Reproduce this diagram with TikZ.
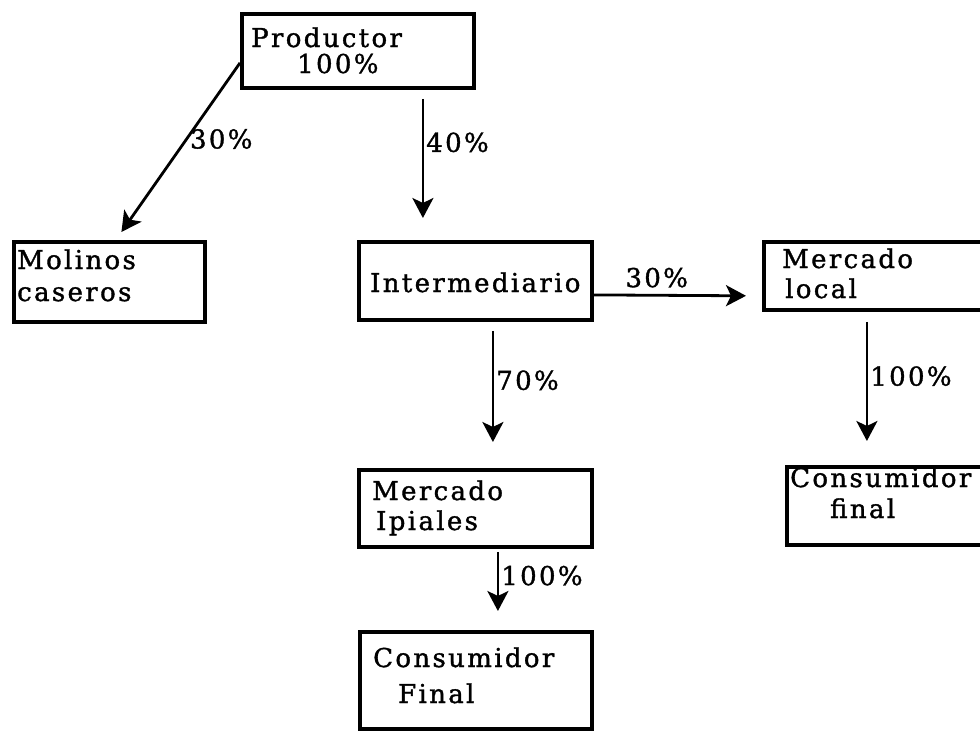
\documentclass[tikz,border=0pt]{standalone}
\usepackage{fontspec}
\setmainfont{DejaVu Serif}[LetterSpace=9,FakeBold=1.3]
\usetikzlibrary{arrows.meta}
\begin{document}
\begin{tikzpicture}[x=1pt,y=-1pt,
  box/.style={draw, line width=3.8pt, minimum width=#1, anchor=north west, inner sep=0pt},
  txt/.style={anchor=base west, inner sep=0pt, font=\fontsize{26}{28}\selectfont},
  arr/.style={line width=2.8pt, -{Stealth[length=20pt,width=21pt,inset=5pt]}},
  lbl/.style={anchor=west, inner sep=2pt, font=\fontsize{26}{28}\selectfont}]
\useasboundingbox (0,0) rectangle (980,731);
% boxes
\node[box=232pt, minimum height=74pt] (p)  at (240,12) {};
\node[box=191pt, minimum height=80pt] (m)  at (12,240) {};
\node[box=233pt, minimum height=78pt] (i)  at (357,240) {};
\node[box=218pt, minimum height=68pt] (ml) at (762,240) {};
\node[box=233pt, minimum height=77pt] (mi) at (357,468) {};
\node[box=195pt, minimum height=78pt] (cf) at (785,465) {};
\node[box=232pt, minimum height=97pt] (cb) at (358,630) {};
% texts
\node[txt] (p1) at (251,47) {Productor};
\node[txt] (p2) at (297,73) {100\%};
\node[txt] (m1) at (17,269) {Molinos};
\node[txt] (m2) at (17,301) {caseros};
\node[txt] (i1) at (370,292) {Intermediario};
\node[txt] (ml1) at (782,268) {Mercado};
\node[txt] (ml2) at (785,298) {local};
\node[txt] (mi1) at (372,500) {Mercado};
\node[txt] (mi2) at (376,530) {Ipiales};
\node[txt] (cf1) at (790,487) {Consumidor};
\node[txt] (cf2) at (830,518) {final};
\node[txt] (cb1) at (373,667) {Consumidor};
\node[txt] (cb2) at (398,703) {Final};
% connectors
\draw[arr] ([yshift=-12pt]p.west) -- ([xshift=12pt,yshift=8pt]m.north)
  node[lbl, pos=0.45] (l1) {30\%};
\draw[arr, shorten <=9pt, shorten >=22pt] ([xshift=65pt]p.south) -- ([xshift=65pt]p.south |- i.north)
  node[lbl, pos=0.35] (l2) {40\%};
\draw[arr, shorten >=16pt] ([yshift=-14pt]i.east) -- ([yshift=-20pt]ml.west)
  node[pos=0.18, anchor=base west, inner sep=0pt, yshift=8pt, font=\fontsize{26}{28}\selectfont] (l3) {30\%};
\draw[arr, shorten <=9pt, shorten >=26pt] ([xshift=17.5pt]i.south) -- ([xshift=17.5pt]i.south |- mi.north)
  node[lbl, pos=0.4] (l4) {70\%};
\draw[arr, shorten <=10pt, shorten >=24pt] ([xshift=-6pt]ml.south) -- ([xshift=-6pt]ml.south |- cf.north)
  node[lbl, pos=0.42] (l5) {100\%};
\draw[arr, shorten <=3pt, shorten >=19pt] ([xshift=22.5pt]mi.south) -- ([xshift=22.5pt]mi.south |- cb.north)
  node[lbl, pos=0.33] (l6) {100\%};
\end{tikzpicture}
\end{document}
